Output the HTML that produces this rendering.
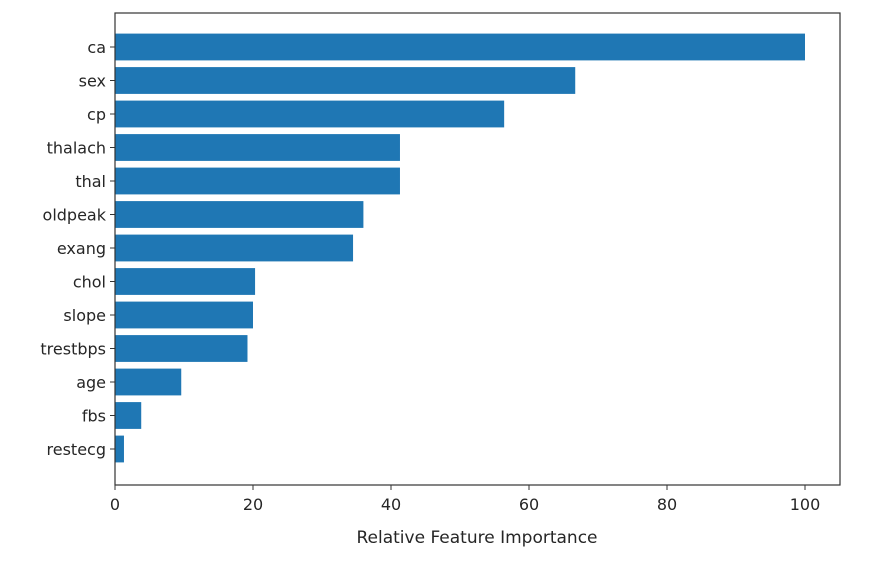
<!DOCTYPE html>
<html><head><meta charset="utf-8"><style>
body{margin:0;background:#fff;}
svg text{font-family:"DejaVu Sans","Liberation Sans",sans-serif;fill:#262626;}
</style></head><body>
<svg width="888" height="572">
<g id="bars"></g>
<g id="yticks"></g>
<g id="xticks"></g>
<rect x="115" y="13" width="725" height="472" fill="none" stroke="#333" stroke-width="1.2"/>
<text x="477" y="543" font-size="17" text-anchor="middle">Relative Feature Importance</text>
</svg>
<script>
const categories=["ca","sex","cp","thalach","thal","oldpeak","exang","chol","slope","trestbps","age","fbs","restecg"];
const values=[100,66.7,56.4,41.3,41.3,36,34.5,20.3,20,19.2,9.6,3.8,1.3];
const xTicks=[0,20,40,60,80,100];
const NS="http://www.w3.org/2000/svg";
const x0=115,pxPer=6.9;
function xs(v){return x0+v*pxPer;}
function ys(i){return 47+i*33.5;}
const bh=26.8;
const gb=document.getElementById('bars'),gy=document.getElementById('yticks'),gx=document.getElementById('xticks');
categories.forEach((c,i)=>{
 const r=document.createElementNS(NS,'rect');
 r.setAttribute('x',xs(0));r.setAttribute('y',ys(i)-bh/2);
 r.setAttribute('width',xs(values[i])-xs(0));r.setAttribute('height',bh);
 r.setAttribute('fill','#1f77b4');
 
 
 gb.appendChild(r);
 const l=document.createElementNS(NS,'line');
 l.setAttribute('x1',x0-5);l.setAttribute('x2',x0);l.setAttribute('y1',ys(i));l.setAttribute('y2',ys(i));l.setAttribute('stroke','#333');
 gy.appendChild(l);
 const t=document.createElementNS(NS,'text');
 t.setAttribute('x',x0-9);t.setAttribute('y',ys(i)+6);t.setAttribute('text-anchor','end');t.setAttribute('font-size','16');
 t.textContent=c;
 
 
 gy.appendChild(t);
});
xTicks.forEach(v=>{
 const l=document.createElementNS(NS,'line');
 l.setAttribute('x1',xs(v));l.setAttribute('x2',xs(v));l.setAttribute('y1',485);l.setAttribute('y2',490);l.setAttribute('stroke','#333');
 gx.appendChild(l);
 const t=document.createElementNS(NS,'text');
 t.setAttribute('x',xs(v));t.setAttribute('y',510);t.setAttribute('text-anchor','middle');t.setAttribute('font-size','16');
 t.textContent=v;
 
 
 gx.appendChild(t);
});
</script>
</body></html>
